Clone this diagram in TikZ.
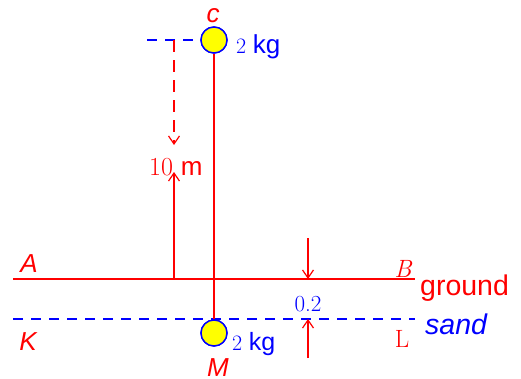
\documentclass[tikz,border=0pt]{standalone}
\usepackage{fontspec}
\setsansfont{Liberation Sans}
\usetikzlibrary{arrows.meta}
\definecolor{myred}{RGB}{255,0,0}
\definecolor{myblue}{RGB}{0,0,255}
\definecolor{myyellow}{RGB}{255,255,0}
\newcommand{\fs}[1]{\fontsize{#1}{#1}\selectfont}
\tikzset{
  ball/.style={circle,draw=myblue,fill=myyellow,line width=1.4pt,minimum size=26pt,inner sep=0pt},
  redline/.style={draw=myred,line width=1.4pt},
  bluedash/.style={draw=myblue,line width=1.4pt,dash pattern=on 10pt off 8pt},
  reddash/.style={draw=myred,line width=1.4pt,dash pattern=on 12pt off 8pt},
  tip/.style={-{Straight Barb[length=8pt,width=11pt,line width=1.2pt]}},
  lbl/.style={inner sep=0pt,anchor=base},
}
\begin{document}
\begin{tikzpicture}[x=1pt,y=-1pt]
\useasboundingbox (0,0) rectangle (521,378);
% balls
\node[ball] (C) at (214,40) {};
\node[ball] (M) at (214,333) {};
% coordinates
\coordinate (tl) at (147,40);
\coordinate (dtop) at (174,40);
\coordinate (dtip) at (174,145);
\coordinate (gA) at (13,279);
\coordinate (gB) at (415,279);
\coordinate (g10) at (174,279);
\coordinate (t10) at (174,172);
\coordinate (sK) at (13,319);
\coordinate (sL) at (415,319);
\coordinate (a1s) at (308,238);
\coordinate (a1e) at (308,279);
\coordinate (a2s) at (308,358);
\coordinate (a2e) at (308,319);
% lines
\draw[bluedash] (sK) -- (sL);
\draw[redline] (gA) -- (gB);
\draw[bluedash] (tl) -- (C.west);
\draw[reddash,tip] (dtop) -- (dtip);
\draw[redline,tip] (g10) -- (t10);
\draw[redline] (C.south) -- (M.north);
\draw[redline,tip] (a1s) -- (a1e);
\draw[redline,tip] (a2s) -- (a2e);
\node[ball] at (C) {};
\node[ball] at (M) {};
% labels
\node[lbl,text=myred] (lc) at (213,22) {\fs{26}\sffamily\itshape c};
\node[lbl,text=myblue,anchor=base west] (lkg1) at (236,53) {\fs{22}\rmfamily 2 \fs{26}\sffamily kg};
\node[lbl,text=myred,anchor=base west] (l10) at (149,175) {\fs{26}\rmfamily 10 \fs{26}\sffamily m};
\node[lbl,text=myred] (lA) at (29,272) {\fs{26}\sffamily\itshape A};
\node[lbl,text=myred] (lK) at (28,350) {\fs{26}\sffamily\itshape K};
\node[lbl,text=myred] (lM) at (218,376) {\fs{26}\sffamily\itshape M};
\node[lbl,text=myred] (lB) at (403,277) {\fs{25}\rmfamily\itshape B};
\node[lbl,text=myred,anchor=base west] (lg) at (420,295) {\fs{28.5}\sffamily ground};
\node[lbl,text=myblue] (l02) at (308,311) {\fs{23}\rmfamily 0.2};
\node[lbl,text=myblue,anchor=base west] (ls) at (425,334) {\fs{28.5}\sffamily\itshape sand};
\node[lbl,text=myred] (lL) at (402,347) {\fs{25}\rmfamily L};
\node[lbl,text=myblue,anchor=base west] (lkg2) at (232,350) {\fs{22}\rmfamily 2 \fs{25}\sffamily kg};
\end{tikzpicture}
\end{document}
